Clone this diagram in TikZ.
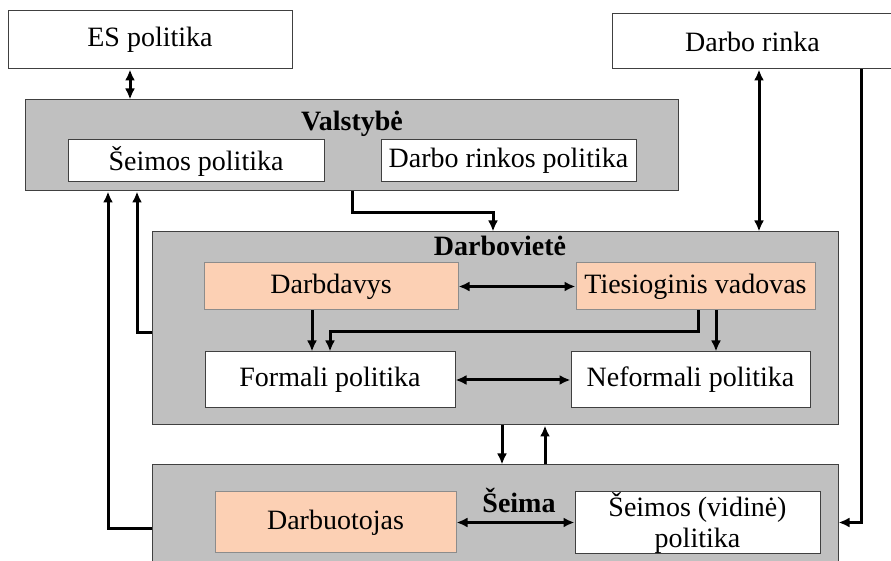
\documentclass[tikz,border=0pt]{standalone}
\usepackage{fontspec}
\setmainfont{Liberation Serif}
\usetikzlibrary{arrows.meta}
\definecolor{groupgrey}{HTML}{C0C0C0}
\definecolor{peach}{HTML}{FCD0B4}
\tikzset{
  txt/.style={font=\fontsize{14}{15.5}\selectfont},
  grp/.style={draw=black!75,line width=0.5pt,fill=groupgrey,inner sep=0pt},
  wbox/.style={txt,draw=black!75,line width=0.5pt,fill=white,inner sep=0pt,align=center},
  obox/.style={wbox,fill=peach,draw=black!45},
  ttl/.style={font=\fontsize{14}{15.5}\selectfont\bfseries},
  link/.style={line width=1.5pt,-{Latex[length=5.5pt,width=5pt]}},
  both/.style={link,{Latex[length=5.5pt,width=5pt]}-{Latex[length=5.5pt,width=5pt]}}
}
\begin{document}
\begin{tikzpicture}[x=0.5pt,y=-0.5pt]
  \useasboundingbox (0,0) rectangle (891,561);
  % outer boxes
  \node [wbox,minimum width=142pt,minimum height=29pt] (es) at (150,40) {ES politika};
  \node [wbox,minimum width=140.5pt,minimum height=27.5pt] (rinka) at (752.5,41.5) {Darbo rinka};
  % Valstybe
  \node [grp,minimum width=326.5pt,minimum height=45.5pt] (valst) at (351.5,145.5) {};
  \node [ttl] (valstl) at (352,124) {Valstybė};
  \node [wbox,minimum width=128pt,minimum height=21pt] (seimpol) at (196,161) {Šeimos politika};
  \node [wbox,minimum width=127.5pt,minimum height=21pt] (drpol) at (508.5,161) {Darbo rinkos politika};
  % Darboviete
  \node [grp,minimum width=343pt,minimum height=96.5pt] (darbov) at (495,328.5) {};
  \node [ttl] (darbovl) at (500,246) {Darbovietė};
  \node [obox,minimum width=127pt,minimum height=23.5pt] (darbd) at (331,286.5) {Darbdavys};
  \node [obox,minimum width=119.5pt,minimum height=23.5pt] (vad) at (695.5,286.5) {Tiesioginis vadovas};
  \node [wbox,minimum width=125pt,minimum height=28pt] (formali) at (330,380) {Formali politika};
  \node [wbox,minimum width=119.5pt,minimum height=28pt] (neform) at (690.5,380) {Neformali politika};
  % Seima
  \node [grp,minimum width=343pt,minimum height=57.5pt] (seima) at (495,522.5) {};
  \node [ttl] (seimal) at (519,500) {Šeima};
  \node [obox,minimum width=120.5pt,minimum height=30.5pt] (darbuot) at (335.5,522.5) {Darbuotojas};
  \node [wbox,minimum width=122.5pt,minimum height=30.5pt] (vidine) at (697.5,522.5) {Šeimos (vidinė)\\politika};
  % columns for the connectors
  \coordinate (xa) at (130,0);
  \coordinate (xb) at (352,0);
  \coordinate (xc) at (493,0);
  \coordinate (xd) at (137,0);
  \coordinate (xe) at (108,0);
  \coordinate (xf) at (312,0);
  \coordinate (xg) at (698,0);
  \coordinate (xh) at (330,0);
  \coordinate (xi) at (716,0);
  \coordinate (xj) at (502,0);
  \coordinate (xk) at (545,0);
  \coordinate (xl) at (759,0);
  \coordinate (xm) at (861,0);
  % connectors
  \draw [both] (es.south -| xa) -- (valst.north -| xa);
  \draw [both] (rinka.south -| xl) -- (darbov.north -| xl);
  \draw [link] (rinka.south -| xm) |- (seima.east);
  \draw [link] (valst.south -| xb) -- ++(0,21) -| (darbov.north -| xc);
  \draw [link] ([yshift=-2pt]darbov.west) -| (valst.south -| xd);
  \draw [link] ([yshift=-3pt]seima.west) -| (valst.south -| xe);
  \draw [both] (darbd) -- (vad);
  \draw [both] (formali) -- (neform);
  \draw [both] (darbuot) -- (vidine);
  \draw [link] (darbd.south -| xf) -- (formali.north -| xf);
  \draw [link] (vad.south -| xg) -- ++(0,21) -| (formali.north -| xh);
  \draw [link] (vad.south -| xi) -- (neform.north -| xi);
  \draw [link] (darbov.south -| xj) -- (seima.north -| xj);
  \draw [link] (seima.north -| xk) -- (darbov.south -| xk);
\end{tikzpicture}
\end{document}
